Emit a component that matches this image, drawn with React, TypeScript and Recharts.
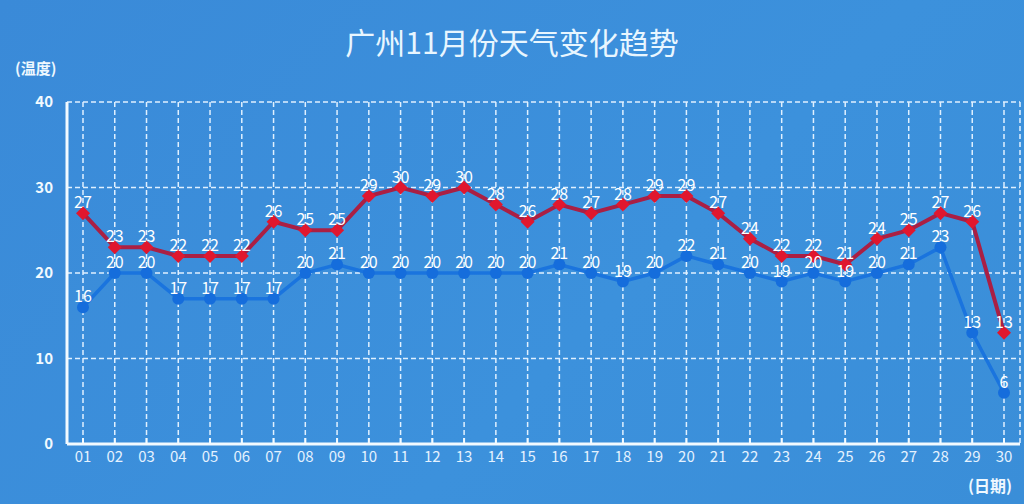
import React from 'react';
import { LineChart, CartesianGrid, XAxis, YAxis, Line, LabelList } from 'recharts';

const days = ['01','02','03','04','05','06','07','08','09','10','11','12','13','14','15','16','17','18','19','20','21','22','23','24','25','26','27','28','29','30'];
const highTemps = [27,23,23,22,22,22,26,25,25,29,30,29,30,28,26,28,27,28,29,29,27,24,22,22,21,24,25,27,26,13];
const lowTemps = [16,20,20,17,17,17,17,20,21,20,20,20,20,20,20,21,20,19,20,22,21,20,19,20,19,20,21,23,13,6];
const yTicks = [0, 10, 20, 30, 40];

const data = days.map((d, i) => ({ day: d, high: highTemps[i], low: lowTemps[i] }));

const font = '"Noto Sans CJK SC", "Noto Sans", sans-serif';

const Diamond = (props: any) => {
    const { cx, cy } = props;
    if (cx == null || cy == null) return null;
    const s = 7;
    return <path d={`M${cx},${cy - s}L${cx + s},${cy}L${cx},${cy + s}L${cx - s},${cy}Z`} fill="#e0172e" />;
};

const App: React.FC = () => {
    return (
        <div style={{ position: 'absolute', left: 0, top: 0, width: 1024, height: 504, background: 'linear-gradient(135deg, #3a8ad8 0%, #3c91dc 60%, #3a8ed8 100%)', fontFamily: font }}>
            <div style={{ position: 'absolute', left: 0, top: 19, width: 1024, textAlign: 'center', color: '#e8f6ff', fontSize: 30 }}>
                广州11月份天气变化趋势
            </div>
            <div style={{ position: 'absolute', left: 15, top: 57, color: '#eef8ff', fontSize: 15, fontWeight: 'bold' }}>(温度)</div>
            <div style={{ position: 'absolute', left: 968, top: 473, color: '#eef8ff', fontSize: 16, fontWeight: 'bold' }}>(日期)</div>
            <LineChart width={1024} height={504} data={data} margin={{ top: 102, right: 4, left: 0, bottom: 30 }} style={{ position: 'absolute', left: 0, top: 0 }}>
                <CartesianGrid stroke="#dff0ff" strokeDasharray="5 3" strokeWidth={1.5} />
                <XAxis dataKey="day" height={30} padding={{ left: 16, right: 16 }} axisLine={{ stroke: '#f2faff', strokeWidth: 3 }}
                    tickLine={{ stroke: '#f2faff', strokeWidth: 2 }} tickSize={-6} tickMargin={13}
                    tick={{ fill: '#e4f2ff', fontSize: 15, fontFamily: font }} interval={0} />
                <YAxis domain={[0, 40]} ticks={yTicks} width={67} axisLine={{ stroke: '#f2faff', strokeWidth: 3 }} tickLine={false} tickMargin={8}
                    tick={{ fill: '#f2faff', fontSize: 15, fontWeight: 'bold', fontFamily: font }} />
                <Line dataKey="low" stroke="#1a74de" strokeWidth={3.5} isAnimationActive={false}
                    dot={{ r: 6, fill: '#156ddc', stroke: 'none' }}>
                    <LabelList dataKey="low" position="top" offset={5} fill="#ffffff" fontSize={16} fontFamily={font} />
                </Line>
                <Line dataKey="high" stroke="#aa1f44" strokeWidth={4} isAnimationActive={false} dot={<Diamond />}>
                    <LabelList dataKey="high" position="top" offset={5} fill="#ffffff" fontSize={16} fontFamily={font} />
                </Line>
            </LineChart>
        </div>
    );
};

export default App;
